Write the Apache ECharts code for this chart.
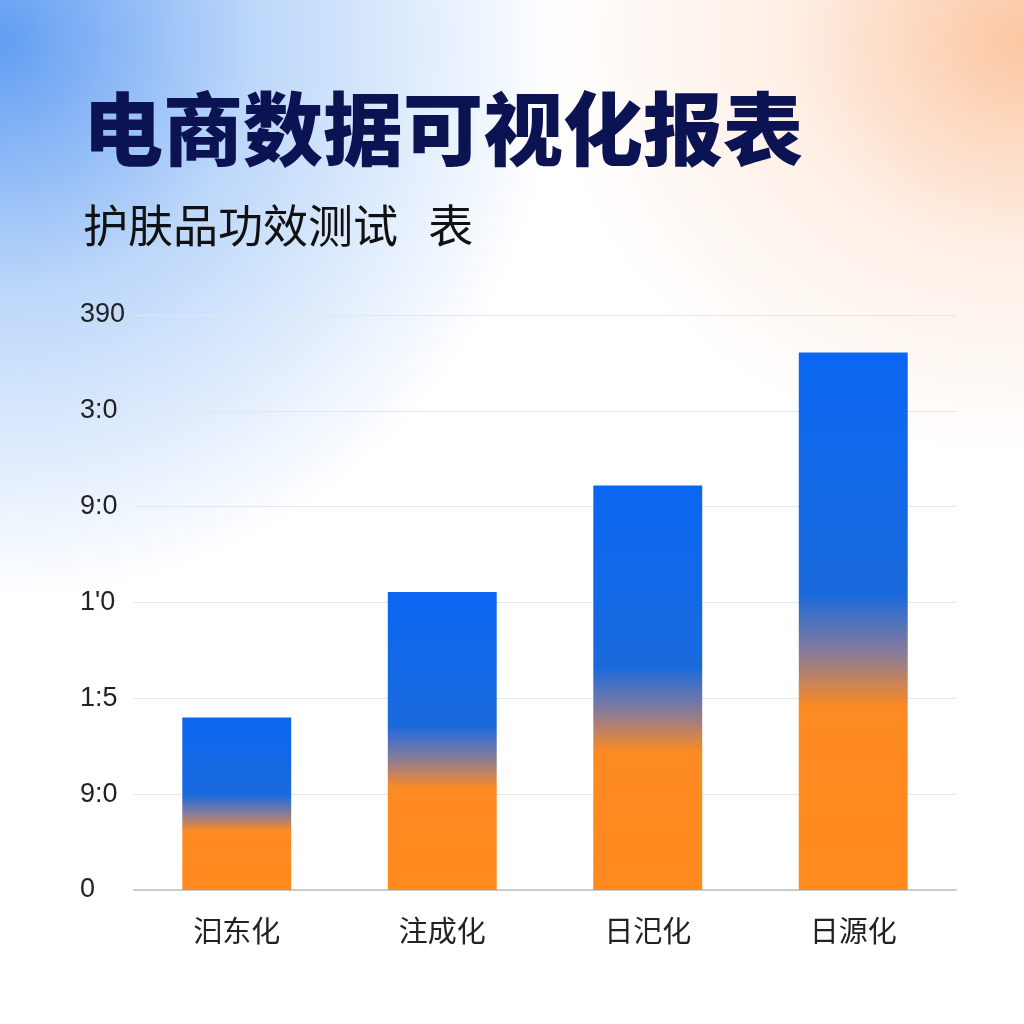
<!DOCTYPE html>
<html><head><meta charset="utf-8">
<script src="https://cdn.jsdelivr.net/npm/echarts@6/dist/echarts.min.js"></script>
<style>
html,body{margin:0;padding:0;width:1024px;height:1024px;overflow:hidden;
background:
radial-gradient(ellipse 560px 560px at 0px 40px, rgba(70,140,240,0.85), rgba(120,175,245,0.5) 45%, rgba(255,255,255,0) 100%),
radial-gradient(ellipse 480px 420px at 1024px 40px, rgba(250,180,130,0.75), rgba(252,215,190,0.4) 50%, rgba(255,255,255,0) 100%),
#ffffff;}
#c{width:1024px;height:1024px;}
</style></head><body><div id="c"></div>
<script>
const categories=['汩东化','注成化','日汜化','日源化'];
const values=[1.8,3.11,4.22,5.61];
const tickLabels=['0','9:0','1:5','1\'0','9:0','3:0','390'];
const chart=echarts.init(document.getElementById('c'));
chart.setOption({
  backgroundColor:'transparent',
  title:[
    {text:'电商数据可视化报表',left:78,top:84,textStyle:{fontSize:80,fontWeight:900,color:'#0c1352',fontFamily:'Noto Sans CJK SC'}},
    {text:'护肤品功效测试   表',left:78,top:198,textStyle:{fontSize:45,fontWeight:'normal',color:'#111',fontFamily:'Noto Sans CJK SC'}}
  ],
  grid:{left:134,right:68,top:315,bottom:134},
  xAxis:{type:'category',data:categories,
    axisLine:{lineStyle:{color:'#ccc',width:2}},axisTick:{show:false},
    axisLabel:{fontSize:29,color:'#222',margin:26,fontFamily:'Noto Sans CJK SC'}},
  yAxis:{type:'value',min:0,max:6,interval:1,
    axisLabel:{fontSize:27,color:'#222',margin:54,align:'left',formatter:(v)=>tickLabels[Math.round(v)]},
    axisLine:{show:false},axisTick:{show:false},
    splitLine:{lineStyle:{color:'#e4e6ea'}}},
  series:[{type:'bar',data:values,barWidth:'53%',
    itemStyle:{color:new echarts.graphic.LinearGradient(0,0,0,1,[
      {offset:0,color:'#0a66f2'},{offset:0.45,color:'#1a6adc'},
      {offset:0.56,color:'#8a7c98'},{offset:0.66,color:'#fd8a22'},{offset:1,color:'#ff8a1e'}])}}]
});
</script></body></html>
